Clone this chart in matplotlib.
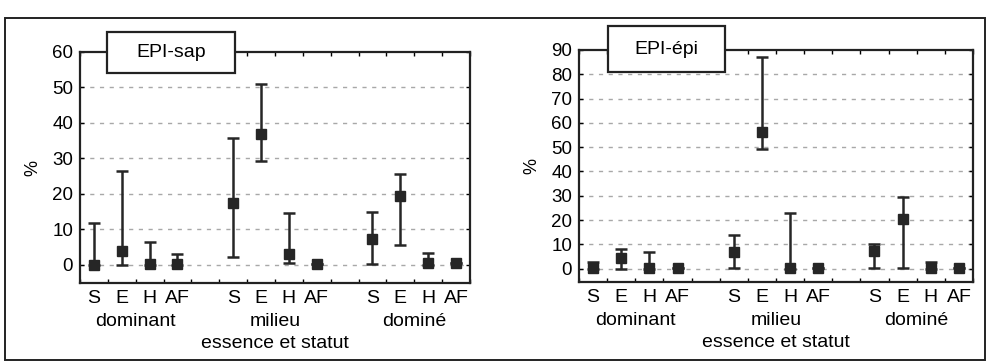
import numpy as np
import matplotlib.pyplot as plt
from matplotlib.patches import Rectangle

plt.rcParams['font.family'] = ['Liberation Sans', 'DejaVu Sans']

# categories: essence (S, E, H, AF) within each statut group
essences = ['S', 'E', 'H', 'AF']
statuts = ['dominant', 'milieu', 'dominé']
positions = [0, 1, 2, 3, 5, 6, 7, 8, 10, 11, 12, 13]

# EPI-sap: mean, lower bound, upper bound (%)
sap_mean = [0.0, 3.9, 0.3, 0.3, 17.5, 37.0, 3.2, 0.3, 7.3, 19.5, 0.5, 0.4]
sap_low = [0.0, 0.0, 0.0, 0.0, 2.3, 29.2, 0.4, 0.3, 0.2, 5.6, 0.1, 0.4]
sap_high = [11.8, 26.4, 6.4, 3.0, 35.7, 51.0, 14.5, 0.3, 14.9, 25.7, 3.4, 0.4]

# EPI-épi: mean, lower bound, upper bound (%)
epi_mean = [0.1, 4.2, 0.2, 0.2, 7.0, 56.1, 0.4, 0.3, 7.1, 20.4, 0.4, 0.3]
epi_low = [0.0, 0.0, 0.0, 0.2, 0.1, 49.3, 0.0, 0.3, 0.2, 0.3, 0.0, 0.3]
epi_high = [2.8, 7.9, 6.9, 0.2, 13.7, 87.0, 23.0, 0.3, 10.1, 29.3, 2.6, 0.3]

panels = [
    ('EPI-sap', sap_mean, sap_low, sap_high, (-5.1, 60), 60,
     [80 / 987, 1 - 283 / 364, 390 / 987, 231 / 364], (107, 32, 128, 41)),
    ('EPI-épi', epi_mean, epi_low, epi_high, (-5.5, 90), 90,
     [579 / 987, 1 - 282 / 364, 394 / 987, 232 / 364], (608, 26, 117, 46)),
]

fig = plt.figure(figsize=(9.87, 3.64), dpi=100)

# outer frame around both panels
fig.patches.append(Rectangle((5 / 987, 4 / 364), 980 / 987, 342 / 364,
                             transform=fig.transFigure, fill=False,
                             edgecolor='#222222', linewidth=1.4))

for title, mean, low, high, ylim, ytop, rect, box in panels:
    ax = fig.add_axes(rect)
    mean = np.array(mean)
    yerr = [mean - np.array(low), np.array(high) - mean]
    ax.errorbar(positions, mean, yerr=yerr, fmt='s', color='#262626',
                ecolor='#262626', elinewidth=1.8, capsize=4.5, capthick=1.8,
                markersize=7, zorder=3)
    ax.set_xlim(-0.5, 13.5)
    ax.set_ylim(*ylim)
    ax.set_yticks(np.arange(0, ytop + 1, 10))
    for g in np.arange(0, ytop, 10):
        ax.axhline(g, color='#a8a8a8', linewidth=1.0,
                   linestyle=(0, (3, 4)), zorder=1)
    ax.set_xticks(positions, essences * 3)
    ax.set_xticks(np.arange(-0.5, 14, 1), minor=True)
    ax.tick_params(axis='x', which='major', length=0, pad=5, labelsize=14)
    ax.tick_params(axis='x', which='minor', direction='in', length=3,
                   top=True, bottom=True, width=1)
    ax.tick_params(axis='y', direction='in', length=3, right=True,
                   labelsize=13.5, pad=5, width=1)
    for s in ax.spines.values():
        s.set_linewidth(1.6)
        s.set_color('#222222')
    ax.set_ylabel('%', fontsize=13, labelpad=8)

    xt = ax.get_xaxis_transform()
    for i, name in enumerate(statuts):
        ax.text(1.5 + 5 * i, -0.168, name, transform=xt, ha='center',
                va='center', fontsize=14)
    ax.text(6.5, -0.262, 'essence et statut', transform=xt, ha='center',
            va='center', fontsize=14)

    # title box overlapping the top spine
    bx, by, bw, bh = box
    fig.patches.append(Rectangle((bx / 987, 1 - (by + bh) / 364),
                                 bw / 987, bh / 364,
                                 transform=fig.transFigure, facecolor='white',
                                 edgecolor='#222222', linewidth=1.6,
                                 zorder=5))
    fig.text((bx + bw / 2) / 987, 1 - (by + bh / 2) / 364, title,
             ha='center', va='center', fontsize=14, zorder=6)

fig.savefig('out.png', dpi=100)
